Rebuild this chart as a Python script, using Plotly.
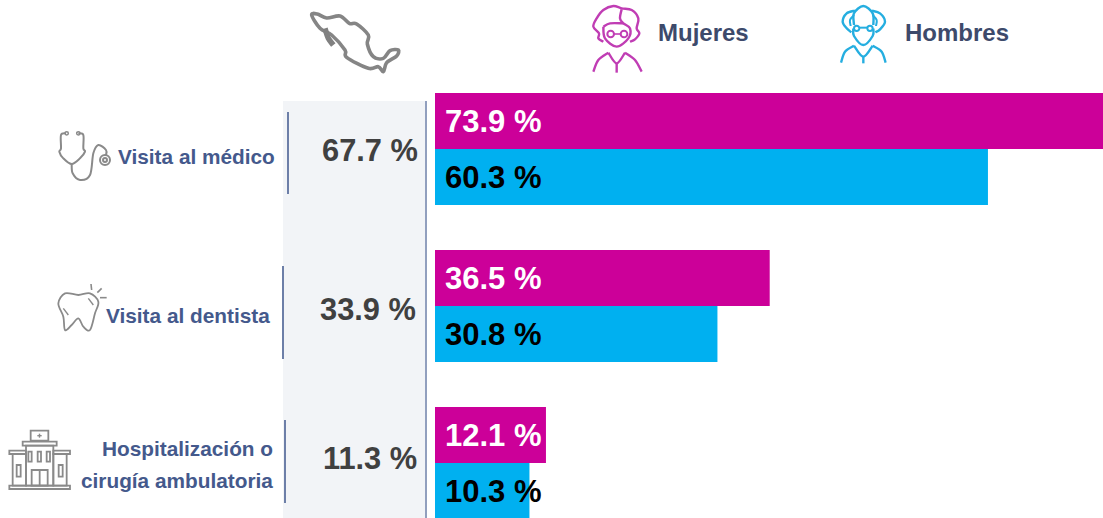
import plotly.graph_objects as go

W, H = 1103, 518

categories = ["Visita al médico", "Visita al dentista", "Hospitalización o cirugía ambulatoria"]
mujeres = [73.9, 36.5, 12.1]
hombres = [60.3, 30.8, 10.3]
nacional = [67.7, 33.9, 11.3]

MAG, BLUE = "#CC0099", "#00B0F0"
NAVY, LINE, GREY = "#44598C", "#6D7FA8", "#8A8A8A"


def X(x):
    return x / W


def Y(y):
    return 1 - y / H


def smooth(pts, closed=False):
    """Catmull-Rom through pixel points, written as an SVG path in paper units."""
    n = len(pts)
    idx = lambda i: pts[i % n] if closed else pts[max(0, min(n - 1, i))]
    d = f"M{X(pts[0][0]):.5f},{Y(pts[0][1]):.5f}"
    for i in range(n if closed else n - 1):
        p0, p1, p2, p3 = idx(i - 1), idx(i), idx(i + 1), idx(i + 2)
        c1 = (p1[0] + (p2[0] - p0[0]) / 6, p1[1] + (p2[1] - p0[1]) / 6)
        c2 = (p2[0] - (p3[0] - p1[0]) / 6, p2[1] - (p3[1] - p1[1]) / 6)
        d += f" C{X(c1[0]):.5f},{Y(c1[1]):.5f} {X(c2[0]):.5f},{Y(c2[1]):.5f} {X(p2[0]):.5f},{Y(p2[1]):.5f}"
    return d + (" Z" if closed else "")


def zoomed(pts, ox, oy):
    return [(ox + a / 3, oy + b / 3) for a, b in pts]


shapes = []


def icon_path(pts, ox, oy, color, width, closed=False):
    shapes.append(dict(type="path", xref="paper", yref="paper", path=smooth(zoomed(pts, ox, oy), closed),
                       line=dict(color=color, width=width), layer="above"))


def seg(x0, y0, x1, y1, color, width):
    shapes.append(dict(type="line", xref="paper", yref="paper", x0=X(x0), y0=Y(y0), x1=X(x1), y1=Y(y1),
                       line=dict(color=color, width=width), layer="above"))


def zseg(a0, b0, a1, b1, ox, oy, color, width):
    seg(ox + a0 / 3, oy + b0 / 3, ox + a1 / 3, oy + b1 / 3, color, width)


def rect(a0, b0, a1, b1, ox, oy, color, width):
    shapes.append(dict(type="rect", xref="paper", yref="paper",
                       x0=X(ox + a0 / 3), y0=Y(oy + b0 / 3), x1=X(ox + a1 / 3), y1=Y(oy + b1 / 3),
                       line=dict(color=color, width=width), layer="above"))


def circle(cx, cy, r, ox, oy, color, width):
    rect(cx - r, cy - r, cx + r, cy + r, ox, oy, color, width)
    shapes[-1]["type"] = "circle"


# grey national column
shapes.append(dict(type="rect", xref="paper", yref="paper", x0=X(283), x1=X(425), y0=Y(101), y1=Y(518),
                   fillcolor="#F2F4F7", line_width=0, layer="below"))
seg(426, 101, 426, 518, LINE, 1.5)
seg(288, 112, 288, 194, LINE, 2)
seg(283, 266, 283, 359, LINE, 2)
seg(285, 420, 285, 503, LINE, 2)

# Mexico outline
icon_path([(65, 45), (82, 42), (110, 54), (150, 48), (178, 70), (200, 72), (235, 105), (232, 132), (250, 170),
           (280, 175), (300, 152), (325, 150), (320, 168), (290, 188), (280, 215), (265, 200), (235, 205),
           (170, 172), (165, 150), (125, 105), (90, 85)], 290, 0, "#858585", 3.6, closed=True)
icon_path([(105, 85), (115, 115), (130, 135)], 290, 0, "#808080", 5.5)

# Mujeres icon
C = "#C03DB4"
OX = 585
icon_path([(55, 125), (40, 115), (42, 100), (25, 80), (35, 55), (55, 30), (85, 18), (110, 25), (140, 30), (160, 55),
           (155, 85), (163, 100), (150, 118), (135, 125)], OX, 0, C, 2.4)
icon_path([(55, 80), (60, 115), (95, 140), (130, 115), (135, 85), (115, 70), (105, 55), (110, 28)], OX, 0, C, 2.4)
icon_path([(55, 80), (75, 70), (115, 70)], OX, 0, C, 2.4)
circle(77, 102, 10, OX, 0, C, 2)
circle(117, 102, 10, OX, 0, C, 2)
zseg(87, 102, 107, 102, OX, 0, C, 1.6)
icon_path([(25, 215), (40, 180), (70, 158)], OX, 0, C, 2.4)
icon_path([(120, 158), (150, 180), (170, 215)], OX, 0, C, 2.4)
icon_path([(70, 158), (95, 190), (120, 158)], OX, 0, C, 2.4)
zseg(95, 190, 95, 218, OX, 0, C, 2.4)

# Hombres icon
C = "#25AEE0"
OX = 830
icon_path([(72, 75), (72, 40), (100, 18), (128, 40), (130, 75)], OX, 0, C, 2.4)
icon_path([(70, 85), (72, 108), (100, 135), (128, 108), (130, 85)], OX, 0, C, 2.4)
icon_path([(75, 32), (50, 40), (38, 65), (50, 85), (64, 97)], OX, 0, C, 2.4)
icon_path([(125, 32), (150, 40), (165, 65), (150, 88), (136, 97)], OX, 0, C, 2.4)
icon_path([(72, 45), (60, 60), (62, 78)], OX, 0, C, 2)
icon_path([(128, 45), (140, 60), (138, 78)], OX, 0, C, 2)
circle(80, 85, 8, OX, 0, C, 2)
circle(120, 85, 8, OX, 0, C, 2)
zseg(88, 83, 112, 83, OX, 0, C, 2)
icon_path([(33, 188), (45, 155), (72, 137)], OX, 0, C, 2.4)
icon_path([(128, 137), (155, 155), (167, 188)], OX, 0, C, 2.4)
icon_path([(72, 137), (100, 170), (128, 137)], OX, 0, C, 2.4)
zseg(100, 170, 100, 190, OX, 0, C, 2.4)

# Stethoscope
icon_path([(198, 130), (183, 135), (183, 175), (178, 185), (190, 205), (215, 222), (240, 205), (255, 185), (250, 175),
           (250, 135), (235, 130)], 0, 90, GREY, 2)
icon_path([(215, 222), (218, 250), (240, 270), (270, 255), (280, 190), (295, 165), (318, 180), (318, 195)], 0, 90, GREY, 2)
circle(315, 210, 15, 0, 90, GREY, 2)
circle(315, 210, 6, 0, 90, GREY, 2)
circle(200, 130, 5, 0, 90, GREY, 1.5)
circle(235, 130, 5, 0, 90, GREY, 1.5)

# Tooth
icon_path([(175, 160), (195, 130), (235, 135), (270, 130), (295, 155), (285, 190), (270, 240), (250, 230), (235, 205),
           (215, 225), (195, 240), (190, 200)], 0, 250, GREY, 1.8, closed=True)
zseg(190, 175, 205, 195, 0, 250, GREY, 1.4)
zseg(265, 145, 280, 165, 0, 250, GREY, 1.4)
zseg(273, 102, 275, 120, 0, 250, GREY, 1.6)
zseg(305, 115, 292, 128, 0, 250, GREY, 1.6)
zseg(320, 143, 300, 143, 0, 250, GREY, 1.6)

# Hospital
for box in [(92, 122, 145, 152), (68, 155, 170, 167), (78, 167, 160, 287), (28, 182, 78, 192), (160, 182, 210, 192),
            (38, 192, 78, 287), (160, 192, 200, 287), (28, 287, 210, 297), (85, 185, 95, 215), (113, 185, 123, 215),
            (140, 185, 150, 215), (50, 225, 62, 260), (176, 225, 188, 260), (95, 240, 143, 287)]:
    rect(*box, 0, 390, GREY, 1.8)
zseg(119, 240, 119, 287, 0, 390, GREY, 1.8)
zseg(112, 137, 125, 137, 0, 390, GREY, 1.4)
zseg(118.5, 131, 118.5, 143, 0, 390, GREY, 1.4)

FONT = "Liberation Sans"
annotations = []


def txt(x, y, s, size, color, anchor="left"):
    annotations.append(dict(xref="paper", yref="paper", x=X(x), y=Y(y), text=f"<b>{s}</b>", showarrow=False,
                            xanchor=anchor, yanchor="middle",
                            font=dict(family=FONT, size=size, color=color)))


txt(656, 33, "Mujeres", 24, "#3D4A6B")
txt(903, 33, "Hombres", 24, "#3D4A6B")
txt(277, 156, categories[0], 20.8, NAVY, "right")
txt(272, 315, categories[1], 20.8, NAVY, "right")
txt(275, 448, "Hospitalización o", 20.8, NAVY, "right")
txt(275, 480, "cirugía ambulatoria", 20.8, NAVY, "right")

for v, x, y in zip(nacional, [420, 417.5, 419], [150, 309, 458]):
    txt(x, y, f"{v} %", 30.8, "#404040", "right")

for i, c in enumerate(categories):
    annotations.append(dict(xref="x", yref="y", x=0, y=i, xshift=8, yshift=28, xanchor="left", yanchor="middle",
                            text=f"<b>{mujeres[i]} %</b>", showarrow=False,
                            font=dict(family=FONT, size=31, color="white")))
    annotations.append(dict(xref="x", yref="y", x=0, y=i, xshift=8, yshift=-28, xanchor="left", yanchor="middle",
                            text=f"<b>{hombres[i]} %</b>", showarrow=False,
                            font=dict(family=FONT, size=31, color="black")))

fig = go.Figure()
fig.add_bar(y=categories, x=mujeres, orientation="h", name="Mujeres", marker=dict(color=MAG, line_width=0))
fig.add_bar(y=categories, x=hombres, orientation="h", name="Hombres", marker=dict(color=BLUE, line_width=0))
fig.update_layout(
    width=W, height=H, autosize=False, margin=dict(l=0, r=0, t=0, b=0), showlegend=False,
    paper_bgcolor="white", plot_bgcolor="rgba(0,0,0,0)", barmode="group", bargap=0.287, bargroupgap=0,
    xaxis=dict(domain=[435 / W, 1], range=[0, 668 / 9.17], visible=False),
    yaxis=dict(domain=[0, 1 - 70.5 / H], range=[2.35, -0.5], visible=False, type="category",
               categoryorder="array", categoryarray=categories),
    shapes=shapes, annotations=annotations,
)
fig.write_html("out.html", config=dict(displayModeBar=False),
               post_script="document.body.style.margin='0';document.body.style.overflow='hidden';")
